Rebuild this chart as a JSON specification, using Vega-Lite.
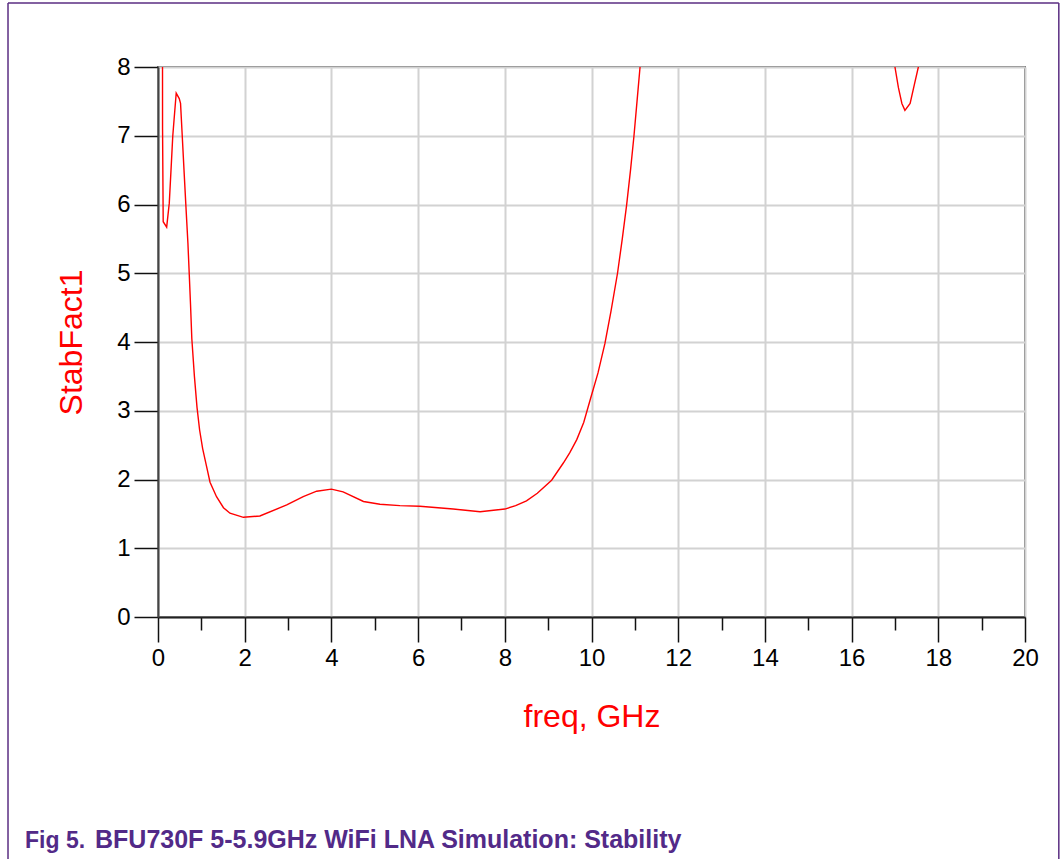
{
  "$schema": "https://vega.github.io/schema/vega-lite/v6.json",
  "width": 867,
  "height": 550,
  "autosize": "none",
  "padding": {"left": 158, "top": 67, "right": 38, "bottom": 242},
  "background": "white",
  "config": {
    "view": {"stroke": "#6a6a6a", "strokeWidth": 2},
    "font": "Liberation Sans"
  },
  "datasets": {
    "one": [{"id": 1}],
    "stab": [
      {"freq": 0.1, "k": 12},
      {"freq": 0.105, "k": 7.1},
      {"freq": 0.12, "k": 5.75},
      {"freq": 0.2, "k": 5.67},
      {"freq": 0.26, "k": 6.02},
      {"freq": 0.3, "k": 6.5},
      {"freq": 0.34, "k": 6.99},
      {"freq": 0.37, "k": 7.23},
      {"freq": 0.42, "k": 7.62},
      {"freq": 0.49, "k": 7.54},
      {"freq": 0.52, "k": 7.47},
      {"freq": 0.56, "k": 6.99},
      {"freq": 0.6, "k": 6.5},
      {"freq": 0.64, "k": 6.02},
      {"freq": 0.69, "k": 5.44},
      {"freq": 0.72, "k": 5.0},
      {"freq": 0.75, "k": 4.55},
      {"freq": 0.78, "k": 4.05},
      {"freq": 0.84, "k": 3.5},
      {"freq": 0.9, "k": 3.05},
      {"freq": 0.96, "k": 2.72},
      {"freq": 1.03, "k": 2.45},
      {"freq": 1.12, "k": 2.19},
      {"freq": 1.2, "k": 1.96},
      {"freq": 1.35, "k": 1.75},
      {"freq": 1.51, "k": 1.59},
      {"freq": 1.66, "k": 1.51},
      {"freq": 1.97, "k": 1.45},
      {"freq": 2.35, "k": 1.47},
      {"freq": 2.97, "k": 1.63},
      {"freq": 3.35, "k": 1.75},
      {"freq": 3.66, "k": 1.83},
      {"freq": 4.0, "k": 1.86},
      {"freq": 4.27, "k": 1.82},
      {"freq": 4.74, "k": 1.68},
      {"freq": 5.12, "k": 1.64},
      {"freq": 5.58, "k": 1.62},
      {"freq": 6.04, "k": 1.61},
      {"freq": 6.81, "k": 1.57},
      {"freq": 7.43, "k": 1.53},
      {"freq": 8.0, "k": 1.57},
      {"freq": 8.25, "k": 1.62},
      {"freq": 8.5, "k": 1.69},
      {"freq": 8.75, "k": 1.8},
      {"freq": 9.08, "k": 1.99},
      {"freq": 9.35, "k": 2.24},
      {"freq": 9.5, "k": 2.39},
      {"freq": 9.66, "k": 2.58},
      {"freq": 9.82, "k": 2.83},
      {"freq": 9.97, "k": 3.16},
      {"freq": 10.15, "k": 3.55},
      {"freq": 10.31, "k": 3.98},
      {"freq": 10.45, "k": 4.45},
      {"freq": 10.6, "k": 5.0},
      {"freq": 10.71, "k": 5.5},
      {"freq": 10.81, "k": 5.99},
      {"freq": 10.9, "k": 6.5},
      {"freq": 10.98, "k": 7.0},
      {"freq": 11.05, "k": 7.5},
      {"freq": 11.12, "k": 8.0},
      {"freq": 11.25, "k": 9.0},
      {"freq": 14.0, "k": 15.0},
      {"freq": 16.9, "k": 8.35},
      {"freq": 17.0, "k": 8.0},
      {"freq": 17.08, "k": 7.7},
      {"freq": 17.16, "k": 7.47},
      {"freq": 17.23, "k": 7.37},
      {"freq": 17.35, "k": 7.47},
      {"freq": 17.45, "k": 7.75},
      {"freq": 17.54, "k": 8.0},
      {"freq": 17.6, "k": 8.25},
      {"freq": 20.0, "k": 14.0}
    ]
  },
  "layer": [
    {
      "data": {"name": "stab"},
      "mark": {"type": "line", "color": "#ff0000", "strokeWidth": 1.4, "clip": true},
      "encoding": {
        "x": {
          "field": "freq",
          "type": "quantitative",
          "scale": {"domain": [0, 20], "nice": false, "zero": false},
          "axis": {
            "values": [0,1,2,3,4,5,6,7,8,9,10,11,12,13,14,15,16,17,18,19,20],
            "format": "d",
            "grid": true,
            "gridColor": {"condition": {"test": "datum.value % 2 === 0", "value": "#d2d2d2"}, "value": "transparent"},
            "gridWidth": 2,
            "tickSize": {"condition": {"test": "datum.value % 2 === 0", "value": 25}, "value": 13},
            "tickColor": "#111111",
            "tickWidth": 1.5,
            "domainColor": "#222222",
            "domainWidth": 2,
            "labelExpr": "datum.value % 2 === 0 ? datum.label : ''",
            "labelFontSize": 24,
            "labelColor": "#000000",
            "labelPadding": 4,
            "labelFlush": false,
            "labelOverlap": false,
            "labelBound": false,
            "title": "freq, GHz",
            "titleColor": "#ff0000",
            "titleFontSize": 32,
            "titleFontWeight": "normal",
            "titlePadding": 31
          }
        },
        "y": {
          "field": "k",
          "type": "quantitative",
          "scale": {"domain": [0, 8], "nice": false, "zero": false},
          "axis": {
            "values": [0,0.5,1,1.5,2,2.5,3,3.5,4,4.5,5,5.5,6,6.5,7,7.5,8],
            "format": "d",
            "grid": true,
            "gridColor": {"condition": {"test": "datum.value % 1 === 0", "value": "#d2d2d2"}, "value": "transparent"},
            "gridWidth": 2,
            "tickSize": {"condition": {"test": "datum.value % 1 === 0", "value": 24}, "value": 13},
            "tickColor": "#111111",
            "tickWidth": 1.5,
            "domainColor": "#444444",
            "domainWidth": 2,
            "labelExpr": "datum.value % 1 === 0 ? format(datum.value, 'd') : ''",
            "labelFontSize": 24,
            "labelColor": "#000000",
            "labelPadding": 4,
            "labelFlush": false,
            "labelOverlap": false,
            "labelBound": false,
            "title": "StabFact1",
            "titleColor": "#ff0000",
            "titleFontSize": 32,
            "titleFontWeight": "normal",
            "titlePadding": 28
          }
        }
      }
    },
    {
      "data": {"name": "one"},
      "mark": {"type": "rule", "color": "#5a2d82", "strokeWidth": 1.5},
      "encoding": {
        "x": {"datum": -3.46, "type": "quantitative"},
        "y": {"datum": 8.93, "type": "quantitative"},
        "y2": {"datum": -3.6}
      }
    },
    {
      "data": {"name": "one"},
      "mark": {"type": "rule", "color": "#5a2d82", "strokeWidth": 1.5},
      "encoding": {
        "x": {"datum": 20.78, "type": "quantitative"},
        "y": {"datum": 8.93, "type": "quantitative"},
        "y2": {"datum": -3.6}
      }
    },
    {
      "data": {"name": "one"},
      "mark": {"type": "rule", "color": "#5a2d82", "strokeWidth": 1.5},
      "encoding": {
        "x": {"datum": -3.46, "type": "quantitative"},
        "x2": {"datum": 20.78},
        "y": {"datum": 8.93, "type": "quantitative"}
      }
    },
    {
      "data": {"name": "one"},
      "mark": {"type": "text", "color": "#522a88", "fontSize": 23, "fontWeight": "bold", "align": "left", "baseline": "alphabetic", "font": "Liberation Sans"},
      "encoding": {
        "x": {"datum": -3.068, "type": "quantitative"},
        "y": {"datum": -3.36, "type": "quantitative"},
        "text": {"value": "Fig 5."}
      }
    },
    {
      "data": {"name": "one"},
      "mark": {"type": "text", "color": "#522a88", "fontSize": 25, "fontWeight": "bold", "align": "left", "baseline": "alphabetic", "font": "Liberation Sans"},
      "encoding": {
        "x": {"datum": -1.453, "type": "quantitative"},
        "y": {"datum": -3.36, "type": "quantitative"},
        "text": {"value": "BFU730F 5-5.9GHz WiFi LNA Simulation: Stability"}
      }
    }
  ]
}
